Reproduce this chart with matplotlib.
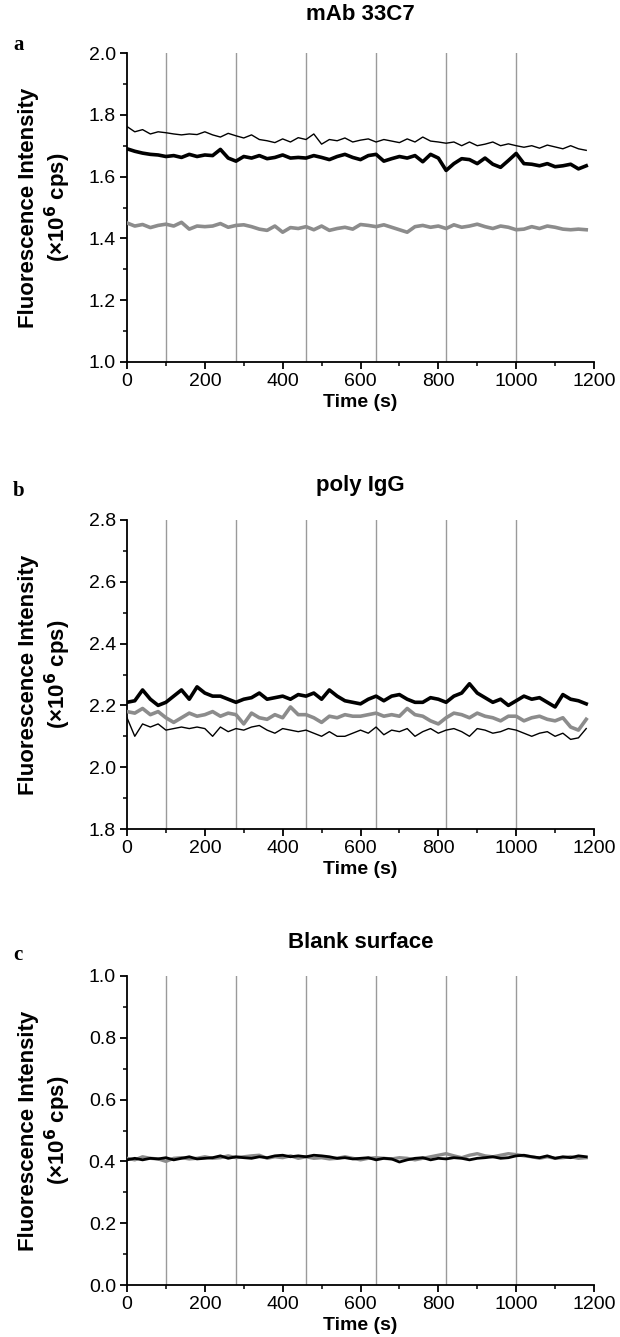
import matplotlib
matplotlib.use("Agg")
import matplotlib.pyplot as plt
from matplotlib.ticker import MultipleLocator, FormatStrFormatter

time_s = list(range(0, 1200, 20))
event_times = [100, 280, 460, 640, 820, 1000]

titles = ["mAb 33C7", "poly IgG", "Blank surface"]
letters = ["a", "b", "c"]
ylims = [(1.0, 2.0), (1.8, 2.8), (0.0, 1.0)]

a_thin = [1.762, 1.745, 1.752, 1.738, 1.745, 1.742, 1.738, 1.735, 1.738, 1.736,
          1.745, 1.735, 1.728, 1.740, 1.732, 1.725, 1.735, 1.720, 1.716, 1.710,
          1.722, 1.712, 1.726, 1.720, 1.738, 1.705, 1.720, 1.716, 1.725, 1.712,
          1.718, 1.722, 1.712, 1.720, 1.715, 1.710, 1.722, 1.712, 1.728, 1.715,
          1.712, 1.708, 1.712, 1.700, 1.712, 1.700, 1.705, 1.712, 1.700, 1.706,
          1.700, 1.695, 1.700, 1.692, 1.702, 1.696, 1.690, 1.700, 1.690, 1.685]
a_thick = [1.690, 1.682, 1.676, 1.672, 1.670, 1.665, 1.668, 1.662, 1.672, 1.665,
           1.670, 1.668, 1.688, 1.660, 1.650, 1.665, 1.660, 1.668, 1.658, 1.662,
           1.670, 1.660, 1.662, 1.660, 1.668, 1.662, 1.655, 1.665, 1.672, 1.662,
           1.655, 1.668, 1.672, 1.650, 1.658, 1.665, 1.660, 1.668, 1.648, 1.672,
           1.660, 1.620, 1.642, 1.658, 1.655, 1.642, 1.660, 1.640, 1.630, 1.652,
           1.675, 1.642, 1.640, 1.635, 1.642, 1.632, 1.635, 1.640, 1.625, 1.635]
a_gray = [1.450, 1.440, 1.445, 1.435, 1.442, 1.446, 1.440, 1.452, 1.430, 1.440,
          1.438, 1.440, 1.448, 1.436, 1.442, 1.444, 1.438, 1.430, 1.426, 1.440,
          1.420, 1.435, 1.432, 1.438, 1.428, 1.440, 1.426, 1.432, 1.436, 1.430,
          1.445, 1.442, 1.438, 1.444, 1.436, 1.428, 1.420, 1.438, 1.442, 1.436,
          1.440, 1.432, 1.444, 1.436, 1.440, 1.446, 1.438, 1.432, 1.440, 1.436,
          1.428, 1.430, 1.438, 1.432, 1.440, 1.436, 1.430, 1.428, 1.430, 1.428]

b_thick = [2.210, 2.215, 2.250, 2.220, 2.200, 2.210, 2.230, 2.250, 2.220, 2.260,
           2.240, 2.230, 2.230, 2.220, 2.210, 2.220, 2.225, 2.240, 2.220, 2.225,
           2.230, 2.220, 2.235, 2.230, 2.240, 2.220, 2.250, 2.230, 2.215, 2.210,
           2.205, 2.220, 2.230, 2.215, 2.230, 2.235, 2.220, 2.210, 2.210, 2.225,
           2.220, 2.210, 2.230, 2.240, 2.270, 2.240, 2.225, 2.210, 2.220, 2.200,
           2.215, 2.230, 2.220, 2.225, 2.210, 2.195, 2.235, 2.220, 2.215, 2.205]
b_gray = [2.180, 2.175, 2.190, 2.170, 2.180, 2.160, 2.145, 2.160, 2.175, 2.165,
          2.170, 2.180, 2.165, 2.175, 2.170, 2.140, 2.175, 2.160, 2.155, 2.170,
          2.160, 2.195, 2.170, 2.170, 2.160, 2.145, 2.165, 2.160, 2.170, 2.165,
          2.165, 2.170, 2.175, 2.165, 2.170, 2.165, 2.190, 2.170, 2.165, 2.150,
          2.140, 2.160, 2.175, 2.170, 2.160, 2.175, 2.165, 2.160, 2.150, 2.165,
          2.165, 2.150, 2.160, 2.165, 2.155, 2.150, 2.160, 2.130, 2.120, 2.155]
b_thin = [2.160, 2.100, 2.140, 2.130, 2.140, 2.120, 2.125, 2.130, 2.125, 2.130,
          2.125, 2.100, 2.130, 2.115, 2.125, 2.120, 2.130, 2.135, 2.120, 2.110,
          2.125, 2.120, 2.115, 2.120, 2.110, 2.100, 2.115, 2.100, 2.100, 2.110,
          2.120, 2.110, 2.130, 2.105, 2.120, 2.115, 2.125, 2.100, 2.115, 2.125,
          2.110, 2.120, 2.125, 2.115, 2.100, 2.125, 2.120, 2.110, 2.115, 2.125,
          2.120, 2.110, 2.100, 2.110, 2.115, 2.100, 2.110, 2.090, 2.095, 2.125]

c_black = [0.405, 0.410, 0.405, 0.410, 0.408, 0.412, 0.405, 0.410, 0.415, 0.408,
           0.410, 0.412, 0.418, 0.410, 0.415, 0.412, 0.410, 0.415, 0.412, 0.418,
           0.420, 0.415, 0.418, 0.415, 0.420, 0.418, 0.415, 0.410, 0.412, 0.408,
           0.410, 0.412, 0.405, 0.410, 0.408, 0.398, 0.405, 0.410, 0.412, 0.405,
           0.410, 0.408, 0.412, 0.410, 0.405, 0.410, 0.412, 0.415, 0.410, 0.412,
           0.418, 0.420, 0.415, 0.412, 0.418, 0.410, 0.415, 0.412, 0.418, 0.415]
c_gray = [0.410, 0.405, 0.415, 0.410, 0.408, 0.400, 0.410, 0.412, 0.408, 0.410,
          0.415, 0.410, 0.412, 0.418, 0.412, 0.415, 0.418, 0.420, 0.410, 0.415,
          0.412, 0.418, 0.410, 0.415, 0.410, 0.412, 0.408, 0.410, 0.415, 0.410,
          0.405, 0.410, 0.412, 0.410, 0.408, 0.412, 0.410, 0.405, 0.410, 0.415,
          0.420, 0.425, 0.418, 0.412, 0.420, 0.425, 0.418, 0.415, 0.420, 0.425,
          0.422, 0.418, 0.415, 0.410, 0.415, 0.410, 0.412, 0.415, 0.410, 0.412]

GRAY = "#8c8c8c"
# (values, color, linewidth, zorder)
panels = [
    [(a_thin, "black", 1.0, 3), (a_thick, "black", 2.6, 4), (a_gray, GRAY, 2.6, 3)],
    [(b_thin, "black", 1.0, 3), (b_gray, GRAY, 2.6, 3), (b_thick, "black", 2.6, 4)],
    [(c_gray, GRAY, 2.4, 3), (c_black, "black", 2.0, 4)],
]

plt.rcParams['font.family'] = ['Liberation Sans', 'DejaVu Sans']

fig = plt.figure(figsize=(6.2, 13.37), dpi=100)
W, H = 620, 1337
left, right = 127, 594
tops = [53, 520, 976]
height = 309
title_y = [14, 485, 943]
letter_y = [45, 491, 955]

for i in range(3):
    top = tops[i]
    ax = fig.add_axes([left / W, 1 - (top + height) / H, (right - left) / W, height / H])
    for et in event_times:
        ax.axvline(et, color="#9a9a9a", lw=1.0, zorder=1)
    for vals, col, lw, z in panels[i]:
        ax.plot(time_s, vals, color=col, lw=lw, zorder=z, solid_joinstyle="round")
    ax.set_xlim(0, 1200)
    ax.set_ylim(*ylims[i])
    ax.spines['top'].set_visible(False)
    ax.spines['right'].set_visible(False)
    ax.spines['left'].set_linewidth(1.3)
    ax.spines['bottom'].set_linewidth(1.3)
    ax.xaxis.set_major_locator(MultipleLocator(200))
    ax.xaxis.set_minor_locator(MultipleLocator(100))
    ax.yaxis.set_major_locator(MultipleLocator(0.2))
    ax.yaxis.set_minor_locator(MultipleLocator(0.1))
    ax.yaxis.set_major_formatter(FormatStrFormatter('%.1f'))
    ax.tick_params(which='major', direction='out', length=5, width=1.3, labelsize=14, pad=3)
    ax.tick_params(which='minor', direction='out', length=3, width=1.1)
    ax.set_xlabel("Time (s)", fontsize=14, fontweight='bold', labelpad=3)
    ax.set_ylabel("Fluorescence Intensity\n(×10$^\\mathbf{6}$ cps)", fontsize=16,
                  fontweight='bold', labelpad=11, linespacing=1.2)
    fig.text((left + right) / 2 / W, 1 - title_y[i] / H, titles[i], fontsize=16,
             fontweight='bold', ha='center', va='center')
    fig.text(13 / W, 1 - letter_y[i] / H, letters[i], fontsize=15,
             fontweight='bold', family=['Liberation Serif', 'DejaVu Serif'],
             va='center', ha='left')

fig.savefig("out.png", dpi=100)
